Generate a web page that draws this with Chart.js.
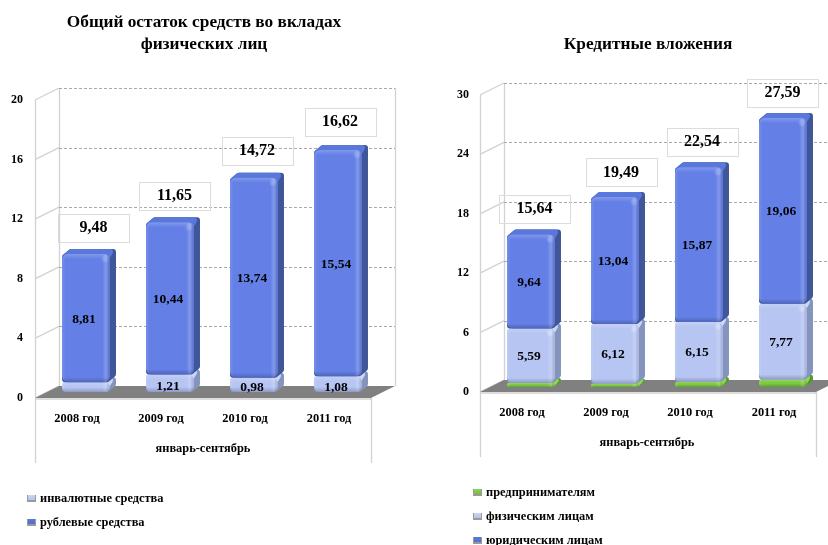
<!DOCTYPE html>
<html lang="ru">
<head>
<meta charset="utf-8">
<title>Вклады и кредитные вложения</title>
<script src="https://cdn.jsdelivr.net/npm/chart.js@4"></script>
<style>
html,body{margin:0;padding:0;background:#fff;width:828px;height:545px;overflow:hidden}
canvas{position:absolute;top:0;filter:blur(.35px)}
#depositChart{left:0}
#creditChart{left:414px}
</style>
</head>
<body>
<canvas id="depositChart" width="414" height="545"></canvas>
<canvas id="creditChart" width="414" height="545"></canvas>
<script>
const years = ['2008 год', '2009 год', '2010 год', '2011 год'];
const periodLabel = 'январь-сентябрь';

const depositTitle = ['Общий остаток средств во вкладах', 'физических лиц'];
const depositForeign = [0.67, 1.21, 0.98, 1.08];
const depositRuble = [8.81, 10.44, 13.74, 15.54];
const depositTotals = [9.48, 11.65, 14.72, 16.62];
const depositForeignName = 'инвалютные средства';
const depositRubleName = 'рублевые средства';

const creditTitle = ['Кредитные вложения'];
const creditEntrepreneurs = [0.41, 0.33, 0.52, 0.76];
const creditIndividuals = [5.59, 6.12, 6.15, 7.77];
const creditCompanies = [9.64, 13.04, 15.87, 19.06];
const creditTotals = [15.64, 19.49, 22.54, 27.59];
const creditEntrepreneursName = 'предпринимателям';
const creditIndividualsName = 'физическим лицам';
const creditCompaniesName = 'юридическим лицам';

const PAL = {
  blue:  {front:'#6480e6', side:'#3f5698', top:'#5a78dc', swatch:'#4f6cd0', glow:'rgba(170,190,255,.45)'},
  light: {front:'#b6c5f2', side:'#8494bc', top:'#cbd6fa', swatch:'#aebfe8', glow:'rgba(235,242,255,.5)'},
  green: {front:'#7ac93e', side:'#4f9a2a', top:'#8fd850', swatch:'#6cbb38', glow:'rgba(190,240,130,.4)'}
};
const SERIF = '"Liberation Serif","Times New Roman",serif';
const fmt = v => v.toFixed(2).replace('.', ',');

function draw3DBar(ctx, x, y, w, h, p) {
  const dx = 6, dy = 5, r = Math.min(6, h / 2), c = Math.min(3, h / 2);
  ctx.save();
  ctx.lineJoin = 'round';
  ctx.lineWidth = 2 * c;
  // side face: rounded hull of the front and the back rectangle
  ctx.fillStyle = ctx.strokeStyle = p.side;
  ctx.beginPath();
  ctx.moveTo(x + c, y + c);
  ctx.lineTo(x + dx + c, y - dy + c);
  ctx.lineTo(x + w + dx - c, y - dy + c);
  ctx.lineTo(x + w + dx - c, y + h - dy - c);
  ctx.lineTo(x + w - c, y + h - c);
  ctx.lineTo(x + c, y + h - c);
  ctx.closePath();
  ctx.fill();
  ctx.stroke();
  // top face
  ctx.fillStyle = ctx.strokeStyle = p.top;
  ctx.beginPath();
  ctx.moveTo(x + c, y + c);
  ctx.lineTo(x + dx + c, y - dy + c);
  ctx.lineTo(x + w + dx - 2 * c, y - dy + c);
  ctx.lineTo(x + w - c, y + c);
  ctx.closePath();
  ctx.fill();
  ctx.stroke();
  // front face
  ctx.beginPath();
  ctx.roundRect(x, y, w, h, r);
  ctx.fillStyle = p.front;
  ctx.fill();
  ctx.clip();
  const gh = ctx.createLinearGradient(x, 0, x + w, 0);
  gh.addColorStop(0, 'rgba(255,255,255,.12)');
  gh.addColorStop(.07, 'rgba(255,255,255,0)');
  gh.addColorStop(.84, 'rgba(255,255,255,0)');
  gh.addColorStop(.92, 'rgba(255,255,255,.2)');
  gh.addColorStop(1, 'rgba(0,0,0,.08)');
  ctx.fillStyle = gh;
  ctx.fillRect(x, y, w, h);
  const gv = ctx.createLinearGradient(0, y, 0, y + h);
  const e = Math.min(.45, 5 / h);
  gv.addColorStop(0, 'rgba(255,255,255,.2)');
  gv.addColorStop(e, 'rgba(255,255,255,0)');
  gv.addColorStop(1 - e, 'rgba(0,0,0,0)');
  gv.addColorStop(1, 'rgba(0,0,40,.22)');
  ctx.fillStyle = gv;
  ctx.fillRect(x, y, w, h);
  // specular spot near the upper right corner of tall faces
  if (h > 24) {
    const sx = x + w - 5, sy = y + 5;
    const gs = ctx.createRadialGradient(sx, sy, 0, sx, sy, 4);
    gs.addColorStop(0, p.glow);
    gs.addColorStop(1, 'rgba(255,255,255,0)');
    ctx.fillStyle = gs;
    ctx.fillRect(sx - 4, sy - 4, 8, 8);
  }
  ctx.restore();
}

function scene(cfg) {
  return {
    id: 'scene',
    beforeDatasetsDraw(chart) {
      const {ctx, chartArea: a, scales: {y}} = chart;
      const left = a.left - 9, right = a.right - 9, dx = 24, dy = 12;
      const yz = y.getPixelForValue(0), yt = y.getPixelForValue(cfg.max);
      ctx.save();
      ctx.lineWidth = 1.3;
      ctx.strokeStyle = '#d2d2d2';
      ctx.beginPath();
      ctx.moveTo(left + .5, yt); ctx.lineTo(left + .5, yz + cfg.drop);
      ctx.moveTo(right + .5, yz); ctx.lineTo(right + .5, yz + cfg.drop);
      ctx.moveTo(left + dx + .5, yt - dy); ctx.lineTo(left + dx + .5, yz - dy);
      ctx.moveTo(right + dx + .5, yt - dy); ctx.lineTo(right + dx + .5, yz - dy);
      for (let v = 0; v <= cfg.max; v += cfg.step) {
        const p = y.getPixelForValue(v);
        ctx.moveTo(left, p); ctx.lineTo(left + dx, p - dy);
      }
      ctx.moveTo(left, yz + 1); ctx.lineTo(right, yz + 1);
      ctx.stroke();
      // dashed grid on the back wall
      ctx.lineWidth = 1;
      ctx.strokeStyle = '#a9a9a9';
      ctx.setLineDash([3, 2]);
      ctx.beginPath();
      for (let v = cfg.step; v <= cfg.max; v += cfg.step) {
        const p = Math.round(y.getPixelForValue(v) - dy) + .5;
        ctx.moveTo(left + dx, p); ctx.lineTo(right + dx, p);
      }
      ctx.stroke();
      ctx.setLineDash([]);
      // floor
      ctx.fillStyle = '#808080';
      ctx.beginPath();
      ctx.moveTo(left, yz); ctx.lineTo(right, yz);
      ctx.lineTo(right + dx, yz - dy); ctx.lineTo(left + dx, yz - dy);
      ctx.closePath();
      ctx.fill();
      ctx.restore();
    },
    afterDatasetsDraw(chart) {
      const {ctx} = chart;
      ctx.save();
      ctx.textAlign = 'center';
      ctx.textBaseline = 'middle';
      chart.data.datasets.forEach((ds, i) => {
        chart.getDatasetMeta(i).data.forEach(el => {
          draw3DBar(ctx, el.x - el.width / 2, el.y, el.width, el.base - el.y, PAL[ds.palette]);
        });
      });
      // values inside the segments
      ctx.fillStyle = '#000';
      ctx.font = 'bold 13.5px ' + SERIF;
      chart.data.datasets.forEach((ds, i) => {
        chart.getDatasetMeta(i).data.forEach((el, j) => {
          const v = ds.data[j];
          if (v < .9) return;
          const shift = el.base - el.y < 20 ? 3 : 1;
          ctx.fillText(fmt(v), el.x - 2, (el.y + el.base) / 2 + shift);
        });
      });
      // totals in outlined boxes
      const top = chart.getDatasetMeta(chart.data.datasets.length - 1).data;
      ctx.font = 'bold 16px ' + SERIF;
      cfg.totals.forEach((v, j) => {
        const cx = top[j].x + cfg.boxDx[j], cy = top[j].y - cfg.boxDy[j];
        ctx.strokeStyle = '#dcdcdc';
        ctx.lineWidth = 1;
        ctx.strokeRect(Math.round(cx - 35.5) + .5, Math.round(cy - 14) + .5, 71, 28);
        ctx.fillStyle = '#000';
        ctx.fillText(fmt(v), cx, cy);
      });
      // titles, period, legend
      ctx.font = 'bold 17.3px ' + SERIF;
      cfg.title.forEach((t, k) => ctx.fillText(t, cfg.titleX, cfg.titleY + k * 22));
      ctx.font = 'bold 12.4px ' + SERIF;
      ctx.fillText(periodLabel, cfg.periodX, cfg.periodY);
      ctx.textAlign = 'left';
      chart.data.datasets.forEach((ds, i) => {
        const ly = cfg.legendY[i];
        ctx.fillStyle = '#9a9a9a';
        ctx.fillRect(cfg.legendX, ly - 4, 9, 7);
        const p = PAL[ds.palette];
        const g = ctx.createLinearGradient(0, ly - 4, 0, ly + 2);
        g.addColorStop(0, p.top); g.addColorStop(1, p.swatch);
        ctx.fillStyle = g;
        ctx.fillRect(cfg.legendX + 1, ly - 4, 7, 5);
        ctx.fillStyle = '#000';
        ctx.fillText(ds.label, cfg.legendX + 13, ly);
      });
      ctx.restore();
    }
  };
}

function build(id, cfg) {
  new Chart(document.getElementById(id), {
    type: 'bar',
    data: {
      labels: years,
      datasets: cfg.series.map(s => ({
        label: s.name, data: s.values, palette: s.palette,
        backgroundColor: 'rgba(0,0,0,0)', borderWidth: 0,
        barPercentage: .571, categoryPercentage: 1, yAxisID: 'yBar'
      }))
    },
    plugins: [scene(cfg)],
    options: {
      responsive: false,
      animation: false,
      layout: {padding: {top: cfg.areaTop, right: cfg.padRight, left: 0, bottom: 0}},
      plugins: {legend: {display: false}, tooltip: {enabled: false}, title: {display: false}},
      scales: {
        x: {
          stacked: true,
          grid: {display: false, drawTicks: false},
          border: {display: false},
          afterFit: s => { s.height = 545 - cfg.areaBottom; },
          ticks: {
            padding: cfg.xPad, labelOffset: -9, maxRotation: 0, autoSkip: false,
            color: '#000', font: {family: SERIF, weight: 'bold', size: 12.4}
          }
        },
        y: {
          min: 0, max: cfg.max,
          grid: {display: false, drawTicks: false},
          border: {display: false},
          afterFit: s => { s.width = cfg.areaLeft; },
          ticks: {
            stepSize: cfg.step, padding: cfg.yPad,
            color: '#000', font: {family: SERIF, weight: 'bold', size: 12}
          }
        },
        yBar: {
          display: false, stacked: true,
          min: cfg.barMin, max: cfg.barMax
        }
      }
    }
  });
}

build('depositChart', {
  series: [
    {name: depositForeignName, values: depositForeign, palette: 'light'},
    {name: depositRubleName, values: depositRuble, palette: 'blue'}
  ],
  totals: depositTotals, title: depositTitle,
  max: 20, step: 4, barMin: -0.41, barMax: 20.05,
  areaTop: 100, areaBottom: 398, areaLeft: 44, padRight: 34, xPad: 13, yPad: 21, drop: 65,
  boxDx: [7.5, 4.5, 3, 2], boxDy: [26, 26, 27, 28],
  titleX: 204, titleY: 23, periodX: 203, periodY: 449,
  legendX: 27, legendY: [499, 523]
});

build('creditChart', {
  series: [
    {name: creditEntrepreneursName, values: creditEntrepreneurs, palette: 'green'},
    {name: creditIndividualsName, values: creditIndividuals, palette: 'light'},
    {name: creditCompaniesName, values: creditCompanies, palette: 'blue'}
  ],
  totals: creditTotals, title: creditTitle,
  max: 30, step: 6, barMin: -0.513, barMax: 29.95,
  areaTop: 95, areaBottom: 392, areaLeft: 75, padRight: 3, xPad: 13, yPad: 20, drop: 65,
  boxDx: [3.5, 6, 3, -0.5], boxDy: [26, 24.5, 25, 25],
  titleX: 234, titleY: 45, periodX: 233, periodY: 443,
  legendX: 59, legendY: [493, 517, 541]
});
</script>
</body>
</html>
